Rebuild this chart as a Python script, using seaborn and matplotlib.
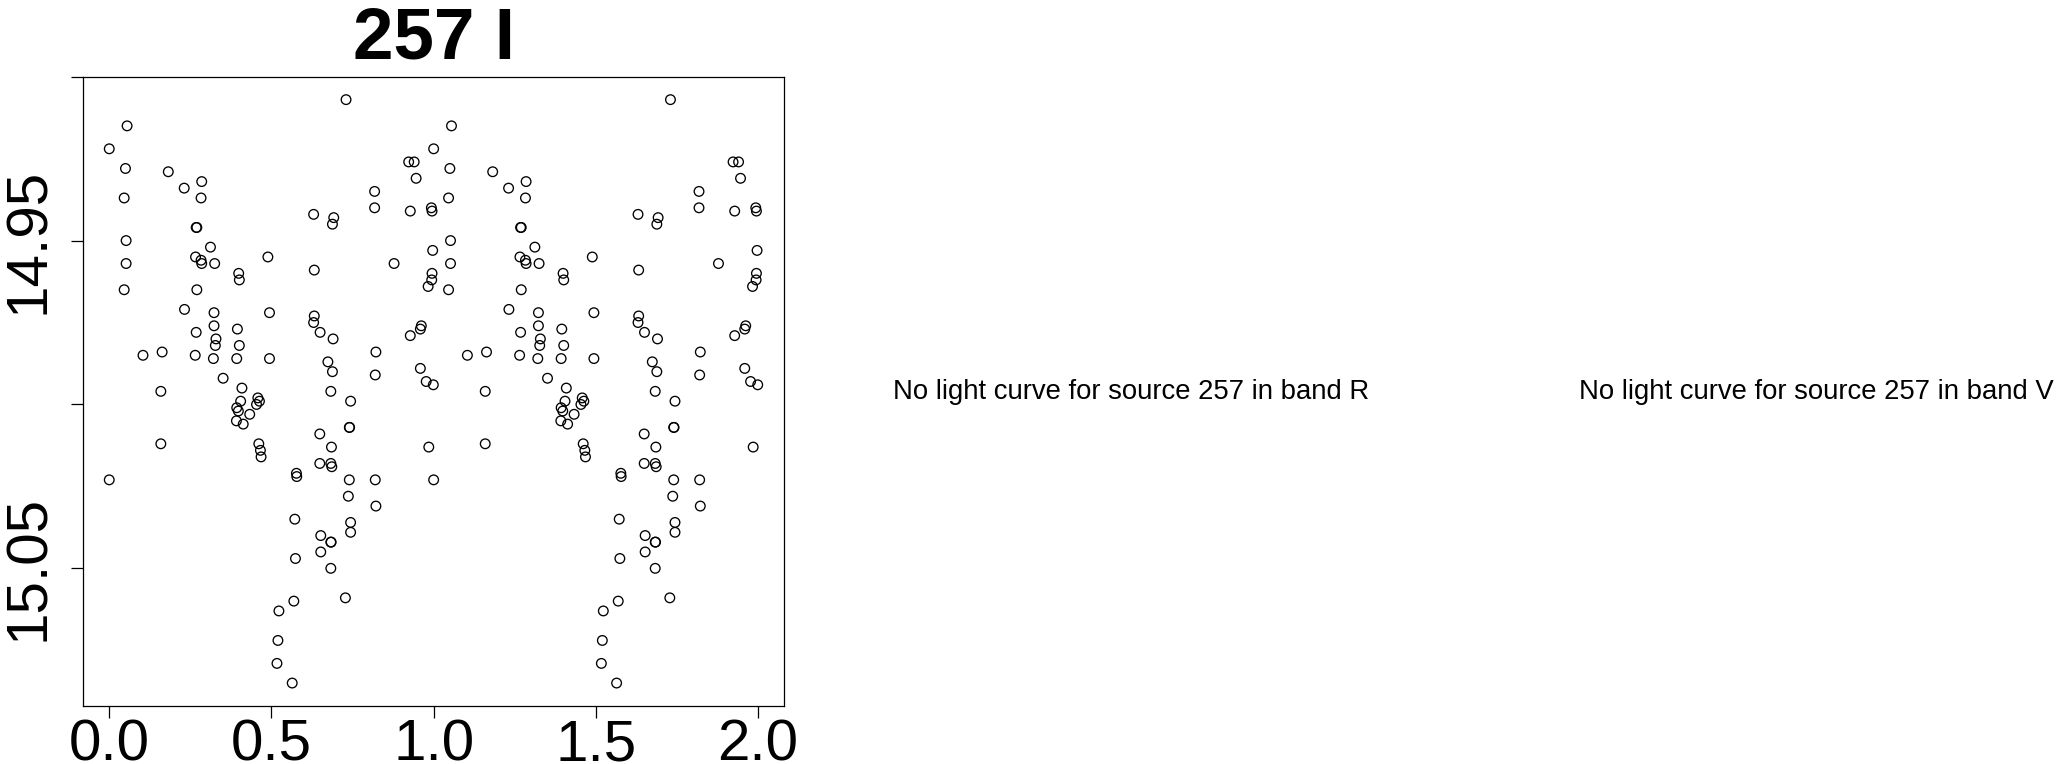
import pandas as pd
import matplotlib
matplotlib.use("Agg")
import matplotlib.pyplot as plt
import seaborn as sns

# phase-folded I band light curve of source 257 (phase in [0,1), magnitude)
phase = [0.000, 0.000, 0.055, 0.050, 0.046, 0.052, 0.052, 0.046, 0.104, 0.163,
         0.159, 0.159, 0.182, 0.231, 0.232, 0.285, 0.283, 0.268, 0.270, 0.266,
         0.283, 0.285, 0.312, 0.325, 0.270, 0.323, 0.268, 0.323, 0.329, 0.327,
         0.265, 0.321, 0.351, 0.399, 0.401, 0.395, 0.401, 0.393, 0.409, 0.405,
         0.393, 0.398, 0.433, 0.392, 0.413, 0.458, 0.463, 0.454, 0.461, 0.466,
         0.468, 0.489, 0.494, 0.494, 0.523, 0.520, 0.517, 0.564, 0.569, 0.574,
         0.572, 0.577, 0.578, 0.630, 0.632, 0.632, 0.630, 0.650, 0.692, 0.688,
         0.690, 0.674, 0.688, 0.683, 0.649, 0.685, 0.649, 0.683, 0.686, 0.652,
         0.652, 0.683, 0.684, 0.683, 0.730, 0.728, 0.744, 0.740, 0.741, 0.740,
         0.737, 0.744, 0.744, 0.818, 0.818, 0.822, 0.820, 0.820, 0.822, 0.878,
         0.923, 0.940, 0.946, 0.928, 0.993, 0.995, 0.997, 0.995, 0.994, 0.983,
         0.928, 0.959, 0.962, 0.959, 0.977, 0.999, 0.985]
mag = [14.922, 15.023, 14.915, 14.928, 14.937, 14.950, 14.957, 14.965, 14.985, 14.984,
       14.996, 15.012, 14.929, 14.934, 14.971, 14.932, 14.937, 14.946, 14.946, 14.955,
       14.956, 14.957, 14.952, 14.957, 14.965, 14.972, 14.978, 14.976, 14.980, 14.982,
       14.985, 14.986, 14.992, 14.960, 14.962, 14.977, 14.982, 14.986, 14.995, 14.999,
       15.001, 15.002, 15.003, 15.005, 15.006, 14.998, 14.999, 15.000, 15.012, 15.014,
       15.016, 14.955, 14.972, 14.986, 15.063, 15.072, 15.079, 15.085, 15.060, 15.047,
       15.035, 15.021, 15.022, 14.942, 14.959, 14.973, 14.975, 14.978, 14.943, 14.945,
       14.980, 14.987, 14.990, 14.996, 15.009, 15.013, 15.018, 15.018, 15.019, 15.040,
       15.045, 15.042, 15.042, 15.050, 14.907, 15.059, 14.999, 15.007, 15.007, 15.023,
       15.028, 15.036, 15.039, 14.935, 14.940, 14.984, 14.991, 15.023, 15.031, 14.957,
       14.926, 14.926, 14.931, 14.941, 14.940, 14.941, 14.953, 14.960, 14.962, 14.964,
       14.979, 14.977, 14.976, 14.989, 14.993, 14.994, 15.013]

source = 257
band = "I"
missing_bands = ["R", "V"]
x_ticks = [0.0, 0.5, 1.0, 1.5, 2.0]
y_ticks = [14.90, 14.95, 15.00, 15.05]
y_labels = ["", "14.95", "", "15.05"]

# two cycles: phase and phase + 1
df = pd.DataFrame({"phase": phase + [p + 1 for p in phase], "mag": mag + mag})

sns.set_style("white")
plt.rcParams['font.family'] = ['Liberation Sans', 'DejaVu Sans']
plt.rcParams['text.color'] = 'black'

fig = plt.figure(figsize=(20.56, 7.64), dpi=100)
W, H = 2056, 764
ax = fig.add_axes([83.3 / W, 1 - 706 / H, (784 - 83.3) / W, (706 - 76.7) / H])

sns.scatterplot(data=df, x="phase", y="mag", ax=ax, marker="o", s=48,
                facecolor="none", edgecolor="black", linewidth=0.95)

ax.set_xlim(-0.08, 2.08)
ax.set_ylim(15.092, 14.900)
ax.set_xticks(x_ticks)
ax.set_xticklabels([f"{t:.1f}" for t in x_ticks])
ax.set_yticks(y_ticks)
ax.set_yticklabels(y_labels, rotation=90, va="center")
ax.tick_params(axis="both", direction="out", length=8.3, width=0.9, colors="black",
               labelsize=42, left=True, bottom=True)
ax.tick_params(axis="x", pad=0.5)
ax.tick_params(axis="y", pad=11)
ax.set_xlabel("")
ax.set_ylabel("")
for sp in ax.spines.values():
    sp.set_color("black")
    sp.set_linewidth(0.9)
ax.set_title(f"{source} {band}", fontsize=52.5, fontweight="bold", pad=13, color="black")

# empty panels for the bands without data
panel_w = 685.33
for i, b in enumerate(missing_bands):
    cx = (446 + panel_w * (i + 1)) / W
    fig.text(cx, 1 - 399.3 / H, f"No light curve for source {source} in band {b}",
             ha="center", va="baseline", fontsize=19.8, color="black")

fig.savefig("out.png", dpi=100)
